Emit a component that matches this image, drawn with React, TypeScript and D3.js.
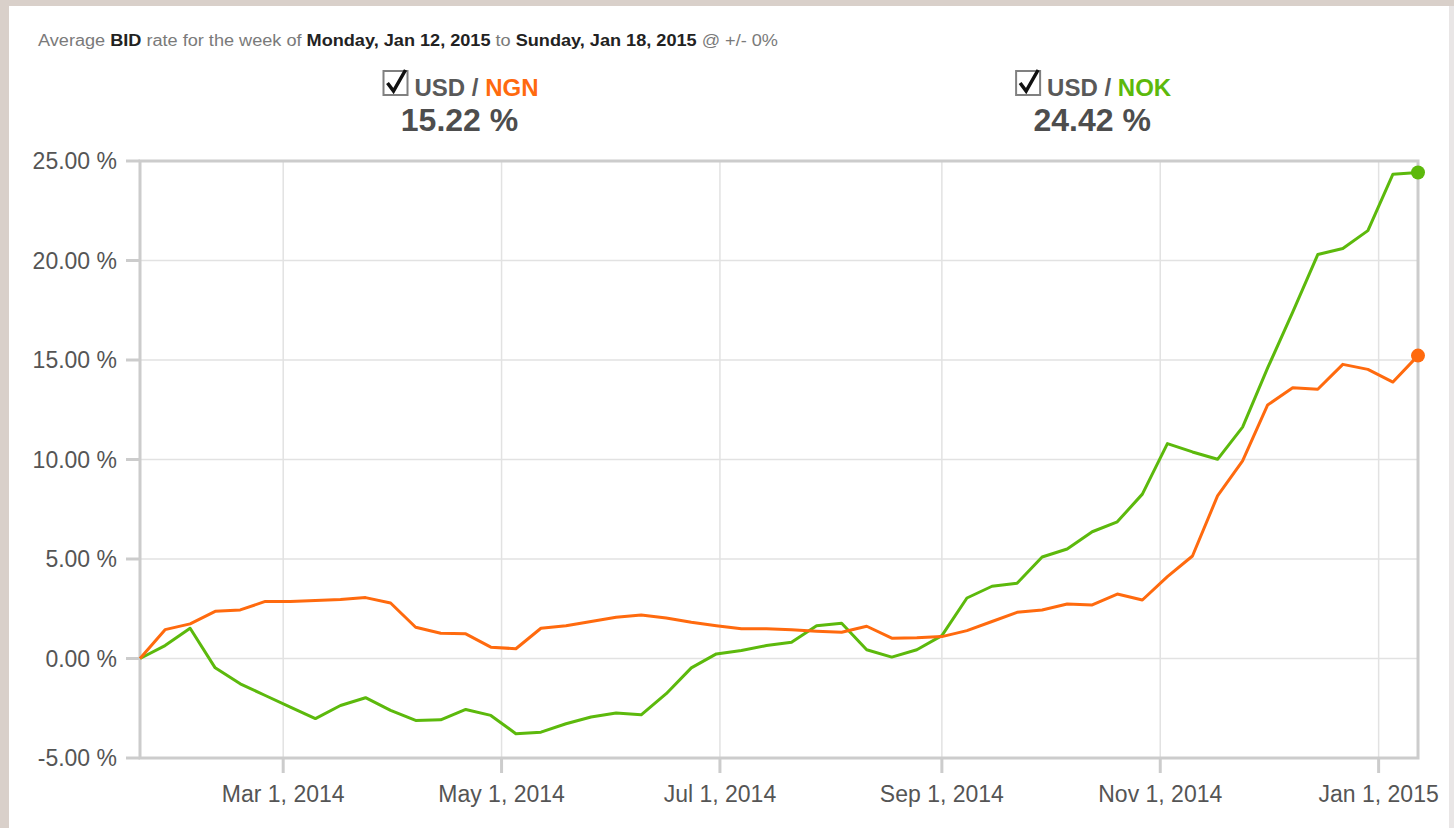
import React from "react"
import * as d3 from "d3"

const startDate = new Date(2014, 0, 20)
const endDate = new Date(2015, 0, 12)
// weekly (Monday) observations
const dates = d3.timeMonday.range(startDate, d3.timeDay.offset(endDate, 1))

const ngnValues = [
  0, 1.45, 1.74, 2.37, 2.44, 2.87, 2.86, 2.92, 2.96, 3.06, 2.79, 1.57, 1.27,
  1.24, 0.57, 0.49, 1.52, 1.65, 1.86, 2.07, 2.19, 2.04, 1.82, 1.65, 1.49, 1.49,
  1.44, 1.37, 1.32, 1.62, 1.02, 1.04, 1.1, 1.4, 1.86, 2.32, 2.44, 2.74, 2.69,
  3.24, 2.94, 4.11, 5.15, 8.17, 9.93, 12.74, 13.61, 13.53, 14.78, 14.53, 13.89,
  15.22,
]

const nokValues = [
  0, 0.65, 1.52, -0.47, -1.27, -1.86, -2.44, -3.02, -2.36, -1.97, -2.61, -3.11,
  -3.08, -2.56, -2.86, -3.78, -3.7, -3.28, -2.94, -2.74, -2.83, -1.77, -0.47,
  0.23, 0.4, 0.65, 0.82, 1.65, 1.77, 0.44, 0.07, 0.44, 1.15, 3.04, 3.63, 3.78,
  5.1, 5.5, 6.37, 6.87, 8.26, 10.8, 10.38, 10.01, 11.63, 14.6, 17.4, 20.3, 20.6,
  21.5, 24.34, 24.42,
]

const yTicks = [-5, 0, 5, 10, 15, 20, 25]
const xTicks = [
  new Date(2014, 2, 1),
  new Date(2014, 4, 1),
  new Date(2014, 6, 1),
  new Date(2014, 8, 1),
  new Date(2014, 10, 1),
  new Date(2015, 0, 1),
]

const series = [
  { base: "USD", quote: "NGN", color: "#ff6a0e", values: ngnValues, label: "15.22 %" },
  { base: "USD", quote: "NOK", color: "#5cb90c", values: nokValues, label: "24.42 %" },
]

const font = "'Liberation Sans', Arial, sans-serif"

const App = () => {
  const width = 1454
  const height = 828
  const margin = { top: 161, right: 36, bottom: 70, left: 140 }
  const plotRight = width - margin.right
  const plotBottom = height - margin.bottom

  const x = d3.scaleTime().domain([startDate, endDate]).range([margin.left, plotRight])
  const y = d3.scaleLinear().domain([-5, 25]).range([plotBottom, margin.top])

  const line = d3
    .line<number>()
    .x((_, i) => x(dates[i]))
    .y((d) => y(d))

  const fmtDate = d3.timeFormat("%b %-d, %Y")
  const plotW = plotRight - margin.left
  const legendX = [margin.left + plotW * 0.25, margin.left + plotW * 0.745]

  return (
    <div style={{ position: "absolute", left: 0, top: 0 }}>
      <svg width={width} height={height} style={{ display: "block" }}>
        <rect x={0} y={0} width={width} height={height} fill="#d9d0ca" />
        <rect x={9} y={6} width={1440} height={height - 6} fill="#ffffff" />
        <rect x={1449} y={6} width={5} height={height - 6} fill="#e9e6e6" />

        <text
          x={38}
          y={46}
          fontFamily={font}
          fontSize={16}
          fill="#7a7a7a"
          textLength={740}
          lengthAdjust="spacingAndGlyphs"
        >
          Average <tspan fontWeight="bold" fill="#222">BID</tspan> rate for the week of{" "}
          <tspan fontWeight="bold" fill="#222">Monday, Jan 12, 2015</tspan> to{" "}
          <tspan fontWeight="bold" fill="#222">Sunday, Jan 18, 2015</tspan> @ +/- 0%
        </text>

        {series.map((s, k) => (
          <g key={s.quote} transform={`translate(${legendX[k]},0)`}>
            <rect x={-76} y={71} width={24} height={24} fill="#fff" stroke="#808080" strokeWidth={2} />
            <path d="M-72,83 L-66,91 L-54,70" fill="none" stroke="#111" strokeWidth={3.5} />
            <text x={-45} y={96} fontFamily={font} fontSize={24} fontWeight="bold" fill="#595959">
              {s.base} / <tspan fill={s.color}>{s.quote}</tspan>
            </text>
            <text x={0} y={131} textAnchor="middle" fontFamily={font} fontSize={32} fontWeight="bold" fill="#4d4d4d">
              {s.label}
            </text>
          </g>
        ))}

        <g>
          {yTicks.map((t) => (
            <g key={t}>
              <line x1={margin.left} x2={plotRight} y1={y(t)} y2={y(t)} stroke="#e2e2e2" strokeWidth={1.5} />
              <line x1={126} x2={margin.left} y1={y(t)} y2={y(t)} stroke="#cccccc" strokeWidth={3} />
              <text x={117} y={y(t) + 8} textAnchor="end" fontFamily={font} fontSize={23} fill="#555">
                {t.toFixed(2)} %
              </text>
            </g>
          ))}
          {xTicks.map((t) => (
            <g key={t.getTime()}>
              <line x1={x(t)} x2={x(t)} y1={margin.top} y2={plotBottom} stroke="#e2e2e2" strokeWidth={1.5} />
              <line x1={x(t)} x2={x(t)} y1={plotBottom} y2={plotBottom + 15} stroke="#cccccc" strokeWidth={3} />
              <text x={x(t)} y={plotBottom + 44} textAnchor="middle" fontFamily={font} fontSize={23} fill="#555">
                {fmtDate(t)}
              </text>
            </g>
          ))}
          <rect
            x={margin.left}
            y={margin.top}
            width={plotW}
            height={plotBottom - margin.top}
            fill="none"
            stroke="#cccccc"
            strokeWidth={3}
          />
        </g>

        {series
          .slice()
          .reverse()
          .map((s) => (
            <g key={s.quote}>
              <path d={line(s.values) ?? ""} fill="none" stroke={s.color} strokeWidth={3} strokeLinejoin="round" />
              <circle
                cx={x(dates[dates.length - 1])}
                cy={y(s.values[s.values.length - 1])}
                r={7}
                fill={s.color}
              />
            </g>
          ))}
      </svg>
    </div>
  )
}

export default App
